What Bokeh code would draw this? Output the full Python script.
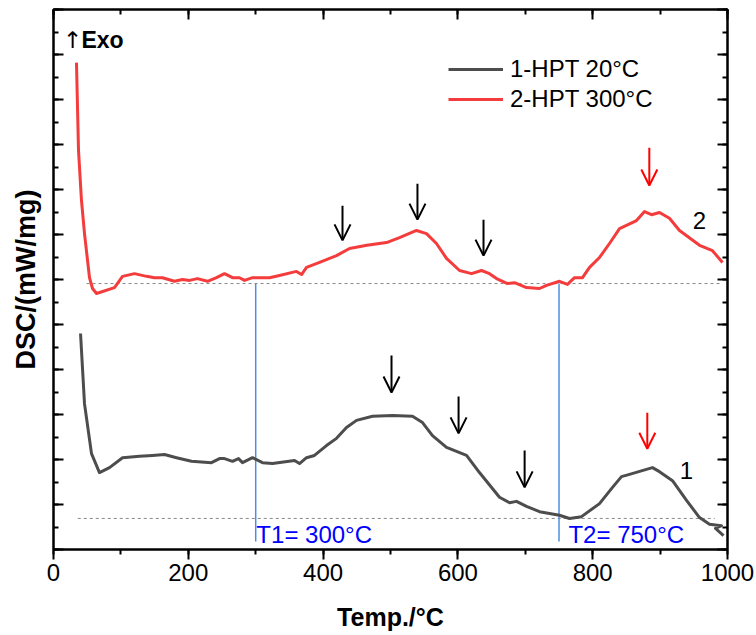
from bokeh.plotting import figure
from bokeh.models import (Range1d, LinearAxis, SingleIntervalTicker, Legend, LegendItem,
                          Label, Arrow, OpenHead)
from bokeh.embed import file_html
from bokeh.resources import INLINE

# ---------------- data ----------------
temp_2 = [34.1, 37.1, 41.5, 46.0, 53.4, 57.9, 63.8, 90.5, 102.4, 120.2, 138.0, 149.9, 161.7,
          179.5, 191.4, 201.8, 213.6, 228.5, 241.8, 253.7, 265.6, 276.0, 283.4, 295.3, 320.5,
          335.3, 360.5, 368.0, 375.4, 394.7, 419.9, 439.2, 465.0, 494.1, 513.4, 538.6, 553.4,
          568.2, 583.1, 602.4, 620.2, 635.0, 646.9, 657.3, 673.6, 684.0, 701.8, 721.1, 731.5,
          750.7, 762.6, 773.0, 784.9, 795.3, 810.1, 824.9, 839.8, 865.0, 876.9, 887.2, 899.1,
          913.9, 928.8, 958.5, 977.7, 992.6]
dsc_2 = [10.82, 8.87, 7.76, 7.02, 6.04, 5.80, 5.69, 5.82, 6.07, 6.13, 6.07, 6.04, 6.04,
         5.96, 6.00, 5.98, 6.02, 5.96, 6.04, 6.13, 6.04, 6.04, 5.98, 6.04, 6.04,
         6.09, 6.18, 6.11, 6.27, 6.38, 6.53, 6.69, 6.76, 6.82, 6.93, 7.09, 7.02,
         6.80, 6.47, 6.20, 6.13, 6.20, 6.13, 6.02, 5.91, 5.93, 5.82, 5.80, 5.87,
         5.96, 5.89, 6.04, 6.04, 6.27, 6.49, 6.80, 7.13, 7.31, 7.51, 7.44, 7.49,
         7.36, 7.09, 6.76, 6.64, 6.38]

temp_1 = [40.1, 46.0, 56.4, 68.2, 83.1, 102.4, 127.6, 146.9, 164.7, 182.5, 204.7, 234.4, 246.3,
          253.7, 265.6, 274.5, 280.4, 295.3, 310.1, 324.9, 357.6, 365.0, 375.4, 387.2, 405.0,
          419.9, 434.7, 449.6, 473.3, 503.0, 532.6, 547.5, 562.3, 583.1, 612.8, 632.0, 661.7,
          676.6, 686.9, 701.8, 721.1, 750.7, 765.6, 783.4, 810.1, 829.4, 842.7, 854.6, 879.8,
          888.7, 899.1, 918.4, 939.2, 958.5, 973.3, 991.1, 982.2, 994.1]
dsc_1 = [4.80, 3.24, 2.13, 1.71, 1.82, 2.04, 2.07, 2.09, 2.11, 2.04, 1.96, 1.93, 2.02,
         2.02, 1.96, 2.02, 1.93, 2.04, 1.93, 1.91, 1.98, 1.91, 2.04, 2.09, 2.31,
         2.47, 2.71, 2.87, 2.96, 2.98, 2.96, 2.82, 2.53, 2.27, 2.09, 1.71, 1.16,
         1.04, 1.07, 0.96, 0.84, 0.76, 0.69, 0.73, 1.02, 1.38, 1.62, 1.67, 1.78,
         1.82, 1.73, 1.53, 1.09, 0.71, 0.56, 0.53, 0.47, 0.31]

series_labels = ["1-HPT 20°C", "2-HPT 300°C"]

baseline_2 = 5.91
baseline_2_x = [49, 991]
baseline_1 = 0.69
baseline_1_x = [36, 981]

t_marks = [300, 750]
t_labels = ["T1= 300°C", "T2= 750°C"]
t_label_x = [301, 764]
t_label_y = 0.34
t_line_bottom = 0.18

# arrows: x, y_start(top), y_end(tip), colour
arrow_x = [428.8, 540.0, 638.0, 884.0, 501.5, 601.0, 699.0, 881.0]
arrow_top = [7.64, 8.13, 7.33, 8.93, 4.31, 3.40, 2.20, 3.04]
arrow_tip = [6.87, 7.33, 6.53, 8.09, 3.49, 2.58, 1.38, 2.24]
arrow_color = ["black", "black", "black", "red", "black", "black", "black", "red"]

curve_tags = ["2", "1"]
curve_tag_x = [958.5, 939.0]
curve_tag_y = [7.31, 1.76]

exo_x = [28, 41.5]
exo_y = 11.33

FONT = "Liberation Sans"
RED = "#f43c3c"
GREY = "#4d4d4d"
BLUE_LINE = "#4a90e2"

p = figure(width=756, height=635, output_backend="svg", toolbar_location=None,
           x_range=Range1d(0, 1000), y_range=Range1d(0, 12),
           min_border_left=53, min_border_right=29, min_border_top=9, min_border_bottom=86)
p.grid.visible = False
p.outline_line_color = "black"
p.outline_line_width = 2
p.background_fill_color = "white"

p.xaxis.ticker = SingleIntervalTicker(interval=200, num_minor_ticks=2)
p.yaxis.ticker = SingleIntervalTicker(interval=1, num_minor_ticks=2)

for ax in p.xaxis:
    ax.axis_line_width = 2
    ax.axis_line_color = "black"
    ax.major_tick_line_width = 2
    ax.minor_tick_line_width = 2
    ax.major_tick_line_color = "black"
    ax.minor_tick_line_color = "black"
    ax.major_tick_out = 10
    ax.major_tick_in = 0
    ax.minor_tick_out = 5
    ax.minor_tick_in = 0
    ax.major_label_text_font = FONT
    ax.major_label_text_font_size = "24px"
    ax.major_label_text_color = "black"
    ax.major_label_text_line_height = 1.0
    ax.major_label_standoff = 4
    ax.axis_label = "Temp./°C"
    ax.axis_label_text_font = FONT
    ax.axis_label_text_font_style = "bold"
    ax.axis_label_text_font_size = "25px"
    ax.axis_label_text_color = "black"
    ax.axis_label_text_line_height = 1.0
    ax.axis_label_standoff = 19

for ax in p.yaxis:
    ax.axis_line_width = 2
    ax.axis_line_color = "black"
    ax.major_tick_line_width = 2
    ax.minor_tick_line_width = 2
    ax.major_tick_line_color = "black"
    ax.minor_tick_line_color = "black"
    ax.major_tick_out = 0
    ax.major_tick_in = 10
    ax.minor_tick_out = 0
    ax.minor_tick_in = 5
    ax.major_label_text_font_size = "0px"
    ax.major_label_text_alpha = 0
    ax.major_label_standoff = 0
    ax.axis_label = "DSC/(mW/mg)"
    ax.axis_label_text_font = FONT
    ax.axis_label_text_font_style = "bold"
    ax.axis_label_text_font_size = "27px"
    ax.axis_label_text_color = "black"
    ax.axis_label_standoff = 13

top_ax = LinearAxis(ticker=SingleIntervalTicker(interval=200, num_minor_ticks=2),
                    major_tick_in=10, major_tick_out=0, minor_tick_in=5, minor_tick_out=0,
                    major_label_text_font_size="0px", major_label_text_alpha=0,
                    major_label_standoff=0, axis_line_width=2, axis_line_color="black",
                    major_tick_line_width=2, minor_tick_line_width=2,
                    major_tick_line_color="black", minor_tick_line_color="black")
right_ax = LinearAxis(ticker=SingleIntervalTicker(interval=1, num_minor_ticks=2),
                      major_tick_in=10, major_tick_out=0, minor_tick_in=5, minor_tick_out=0,
                      major_label_text_font_size="0px", major_label_text_alpha=0,
                      major_label_standoff=0, axis_line_width=2, axis_line_color="black",
                      major_tick_line_width=2, minor_tick_line_width=2,
                      major_tick_line_color="black", minor_tick_line_color="black")
p.add_layout(top_ax, "above")
p.add_layout(right_ax, "right")

# baselines
p.line(baseline_2_x, [baseline_2, baseline_2], line_color="#888888", line_width=1, line_dash="3 3")
p.line(baseline_1_x, [baseline_1, baseline_1], line_color="#888888", line_width=1, line_dash="3 3")

# temperature marks
for tx in t_marks:
    p.line([tx, tx], [t_line_bottom, baseline_2], line_color=BLUE_LINE, line_width=1.5)

r1 = p.line(temp_1, dsc_1, line_color=GREY, line_width=3, line_join="round")
r2 = p.line(temp_2, dsc_2, line_color=RED, line_width=3, line_join="round")

legend = Legend(items=[LegendItem(label=series_labels[0], renderers=[r1]),
                       LegendItem(label=series_labels[1], renderers=[r2])],
                location=(395, 436), padding=0, margin=0, spacing=2,
                glyph_width=55, glyph_height=28, label_height=28, label_standoff=7,
                label_text_font=FONT, label_text_font_size="24px", label_text_color="black",
                border_line_alpha=0, background_fill_alpha=0)
p.add_layout(legend)

for lx, lt in zip(t_label_x, t_labels):
    p.add_layout(Label(x=lx, y=t_label_y, text=lt, text_font=FONT, text_font_size="24px",
                       text_color="#0000ff", text_baseline="alphabetic", text_align="left"))

for tx, ty, tt in zip(curve_tag_x, curve_tag_y, curve_tags):
    p.add_layout(Label(x=tx, y=ty, text=tt, text_font=FONT, text_font_size="24px",
                       text_color="black", text_baseline="alphabetic", text_align="center"))

for ax_, ys, ye, c in zip(arrow_x, arrow_top, arrow_tip, arrow_color):
    p.add_layout(Arrow(end=OpenHead(size=16, line_width=2, line_color=c),
                       x_start=ax_, y_start=ys, x_end=ax_, y_end=ye,
                       line_color=c, line_width=2))

p.add_layout(Label(x=exo_x[0], y=exo_y, text="↑", text_font="DejaVu Sans", text_font_size="23px",
                   text_color="black", text_baseline="alphabetic", text_align="center"))
p.add_layout(Label(x=exo_x[1], y=exo_y, text="Exo", text_font=FONT, text_font_size="23px",
                   text_font_style="bold", text_color="black", text_baseline="alphabetic",
                   text_align="left"))

open("out.html", "w").write(file_html(p, INLINE))
